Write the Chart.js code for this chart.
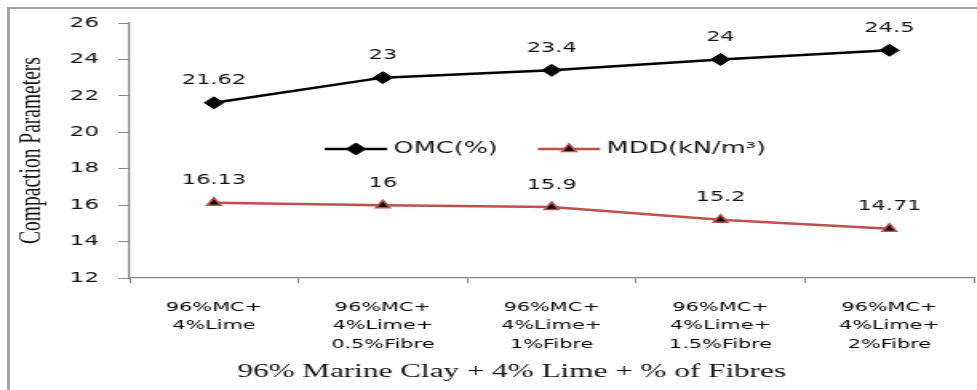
<!DOCTYPE html>
<html>
<head>
<meta charset="utf-8">
<script src="https://cdn.jsdelivr.net/npm/chart.js@4"></script>
<style>
  html, body { margin: 0; padding: 0; background: #fff; overflow: hidden; }
  #frame {
    position: absolute; left: 7px; top: 7px; width: 977px; height: 390px;
    border-left: 3px solid #a3a3a3; border-top: 2px solid #a3a3a3;
  }
  /* The chart is laid out narrow and widened horizontally */
  #wrap {
    position: absolute; left: 0; top: 0; width: 616px; height: 390px;
    transform: scaleX(1.599); transform-origin: 0 0;
  }
</style>
</head>
<body>
<div id="frame"></div>
<div id="wrap"><canvas id="c" width="616" height="390"></canvas></div>
<script>
// Mix proportions on the x axis
const categories = [
  ['96%MC+', '4%Lime'],
  ['96%MC+', '4%Lime+', '0.5%Fibre'],
  ['96%MC+', '4%Lime+', '1%Fibre'],
  ['96%MC+', '4%Lime+', '1.5%Fibre'],
  ['96%MC+', '4%Lime+', '2%Fibre']
];
// Optimum moisture content (%)
const omc = [21.62, 23, 23.4, 24, 24.5];
// Maximum dry density (kN/m³)
const mdd = [16.13, 16, 15.9, 15.2, 14.71];
// Value axis ticks
const yTicks = [12, 14, 16, 18, 20, 22, 24, 26];

const seriesNames = ['OMC(%)', 'MDD(kN/m³)'];
const yTitle = 'Compaction Parameters';
const xTitle = '96% Marine Clay + 4% Lime + % of Fibres';

Chart.defaults.font.family = '"DejaVu Sans", Verdana, sans-serif';
Chart.defaults.color = '#111';

// Numeric value printed above every point
const valueLabels = {
  id: 'valueLabels',
  afterDatasetsDraw(chart) {
    const ctx = chart.ctx;
    ctx.save();
    ctx.font = '14px "DejaVu Sans", Verdana, sans-serif';
    ctx.fillStyle = '#111';
    ctx.textAlign = 'center';
    ctx.textBaseline = 'middle';
    chart.data.datasets.forEach((ds, i) => {
      chart.getDatasetMeta(i).data.forEach((pt, j) => {
        ctx.fillText(String(ds.data[j]), pt.x, pt.y - 22);
      });
    });
    ctx.restore();
  }
};

// Horizontal legend sitting inside the plot area
const innerLegend = {
  id: 'innerLegend',
  afterDraw(chart) {
    const ctx = chart.ctx;
    const area = chart.chartArea;
    const lineLen = 39, gapText = 4, gapItem = 25;
    ctx.save();
    ctx.font = '16px "DejaVu Sans", Verdana, sans-serif';
    ctx.textBaseline = 'middle';
    ctx.textAlign = 'left';
    const items = chart.data.datasets.map(ds => ({ ds, w: ctx.measureText(ds.label).width }));
    let total = 0;
    items.forEach((it, k) => { total += lineLen + gapText + it.w + (k < items.length - 1 ? gapItem : 0); });
    let x = (area.left + area.right) / 2 - total / 2 - 4;
    const y = area.top + area.height * 0.494;
    items.forEach(it => {
      const ds = it.ds;
      ctx.strokeStyle = ds.borderColor;
      ctx.lineWidth = ds.borderWidth;
      ctx.beginPath();
      ctx.moveTo(x, y);
      ctx.lineTo(x + lineLen, y);
      ctx.stroke();
      ctx.fillStyle = ds.pointBackgroundColor;
      ctx.strokeStyle = ds.pointBorderColor;
      ctx.lineWidth = ds.pointBorderWidth;
      Chart.helpers.drawPoint(ctx, {
        pointStyle: ds.pointStyle, radius: ds.pointRadius, rotation: 0, borderWidth: ds.pointBorderWidth
      }, x + lineLen / 2, y);
      ctx.fillStyle = '#111';
      ctx.fillText(ds.label, x + lineLen + gapText, y);
      x += lineLen + gapText + it.w + gapItem;
    });
    ctx.restore();
  }
};

// Category axis caption
const xCaption = {
  id: 'xCaption',
  afterDraw(chart) {
    const ctx = chart.ctx;
    const area = chart.chartArea;
    ctx.save();
    ctx.font = '19.5px "Liberation Serif", "Times New Roman", serif';
    ctx.fillStyle = '#111';
    ctx.textAlign = 'center';
    ctx.textBaseline = 'middle';
    ctx.fillText(xTitle, (area.left + area.right) / 2 - 25, 372);
    ctx.restore();
  }
};

new Chart(document.getElementById('c'), {
  type: 'line',
  data: {
    labels: categories,
    datasets: [
      {
        label: seriesNames[0], data: omc,
        borderColor: '#000000', backgroundColor: '#000000', borderWidth: 2.5, tension: 0,
        pointStyle: 'rectRot', pointRadius: 6, pointBorderWidth: 1,
        pointBackgroundColor: '#000000', pointBorderColor: '#000000'
      },
      {
        label: seriesNames[1], data: mdd,
        borderColor: '#c0504d', backgroundColor: '#c0504d', borderWidth: 2.5, tension: 0,
        pointStyle: 'triangle', pointRadius: 5, pointBorderWidth: 1.5,
        pointBackgroundColor: '#000000', pointBorderColor: '#c0504d'
      }
    ]
  },
  options: {
    responsive: false,
    animation: false,
    devicePixelRatio: 1,
    layout: { padding: { left: 0, top: 23, right: 0, bottom: 0 } },
    plugins: { legend: { display: false }, tooltip: { enabled: false } },
    scales: {
      x: {
        offset: true,
        grid: { offset: true, drawOnChartArea: false, drawTicks: true, tickLength: 5, color: '#888' },
        border: { color: '#888', width: 1.3 },
        ticks: { font: { size: 13, lineHeight: 1.42 }, color: '#000', padding: 15, maxRotation: 0, autoSkip: false },
        afterFit(s) { s.height = 112; }
      },
      y: {
        min: yTicks[0], max: yTicks[yTicks.length - 1],
        afterBuildTicks(s) { s.ticks = yTicks.map(v => ({ value: v })); },
        grid: { drawOnChartArea: false, drawTicks: true, tickLength: 7, color: '#888' },
        border: { color: '#888', width: 1.3 },
        ticks: { font: { size: 14.5 }, color: '#111', padding: 12 },
        title: {
          display: true, text: yTitle, color: '#111',
          font: { family: '"Liberation Serif", "Times New Roman", serif', size: 19.5 },
          padding: { top: 8, bottom: 0 }
        },
        afterFit(s) { s.width = 81; }
      }
    }
  },
  plugins: [valueLabels, innerLegend, xCaption]
});
</script>
</body>
</html>
